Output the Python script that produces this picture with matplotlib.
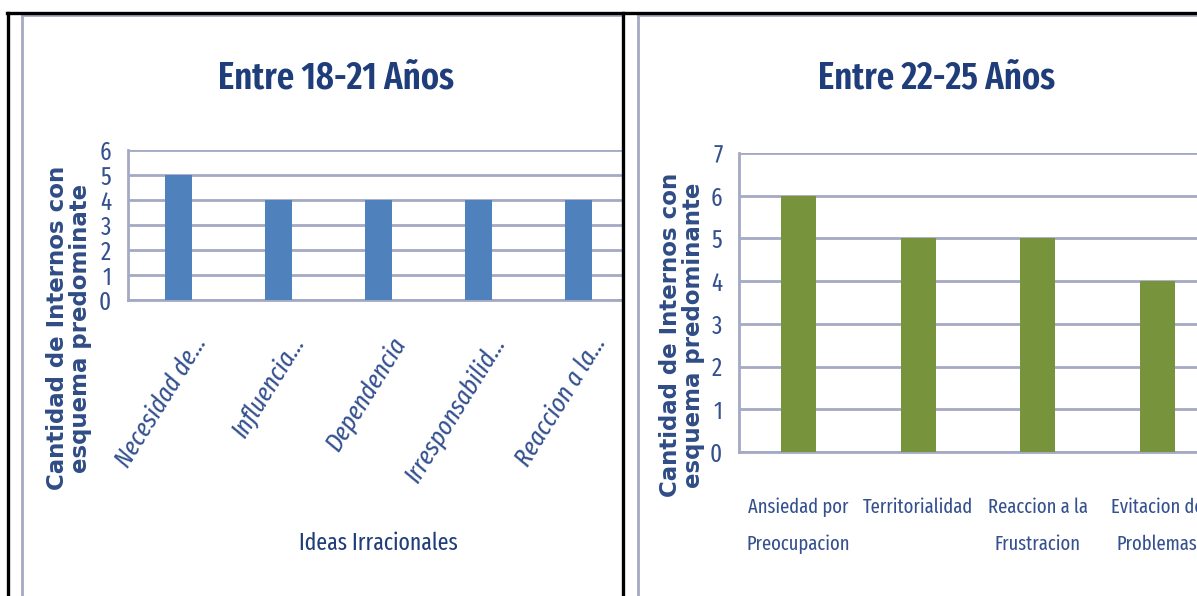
import matplotlib
matplotlib.use("Agg")
import matplotlib.pyplot as plt
import matplotlib.transforms as mtransforms
from matplotlib.lines import Line2D

# data
ideas_18_21 = ["Necesidad de...", "Influencia...", "Dependencia", "Irresponsabilid...", "Reaccion a la..."]
counts_18_21 = [5, 4, 4, 4, 4]

ideas_22_25 = ["Ansiedad por\nPreocupacion", "Territorialidad", "Reaccion a la\nFrustracion", "Evitacion de\nProblemas"]
counts_22_25 = [6, 5, 5, 4]

W, H = 1197, 596
NARROW = ["Fira Sans Extra Condensed", "Carlito", "DejaVu Sans"]
TITLE_C = "#1F3D7A"
TEXT_C = "#34508F"
GRID_C = "#A4A9C4"
BLUE = "#4F81BD"
GREEN = "#77933C"

fig = plt.figure(figsize=(W / 100, H / 100), dpi=100)


def box(x0, y0, x1, y1):
    # pixel box (top-left origin) -> figure fractions
    return [x0 / W, 1 - y1 / H, (x1 - x0) / W, (y1 - y0) / H]


def fx(x):
    return x / W


def fy(y):
    return 1 - y / H


def style_axes(ax, ymax):
    ax.set_ylim(0, ymax)
    ax.set_yticks(range(ymax + 1))
    ax.grid(axis="y", color=GRID_C, lw=2)
    ax.set_axisbelow(True)
    for s in ["top", "right"]:
        ax.spines[s].set_visible(False)
    for s in ["left", "bottom"]:
        ax.spines[s].set_color(GRID_C)
        ax.spines[s].set_linewidth(2)
    ax.tick_params(axis="both", length=0)
    for lab in ax.get_yticklabels():
        lab.set_family(NARROW)
        lab.set_fontweight("normal")
        lab.set_fontsize(18)
        lab.set_color(TEXT_C)


# ---- left chart: 18-21 ----
ax1 = fig.add_axes(box(128, 150, 622, 300))
ax1.bar(range(len(counts_18_21)), counts_18_21, width=0.27, color=BLUE, zorder=3)
ax1.set_xlim(-0.5, -0.5 + 494 / 100)
ax1.set_xticks([])
style_axes(ax1, 6)
ax1.tick_params(axis="y", pad=12)

off = mtransforms.ScaledTranslation(12 / 100, -32 / 100, fig.dpi_scale_trans)
trans = mtransforms.blended_transform_factory(ax1.transData, ax1.transAxes) + off
for i, name in enumerate(ideas_18_21):
    ax1.text(i, 0, name, transform=trans, rotation=58, rotation_mode="anchor",
             ha="right", va="top", fontsize=19, style="italic", fontweight="normal",
             family=NARROW, color=TEXT_C, clip_on=False)

fig.text(fx(336), fy(78), "Entre 18-21 Años", ha="center", va="center",
         fontsize=27, fontweight="semibold", family=NARROW, color=TITLE_C)
fig.text(fx(378), fy(543), "Ideas Irracionales", ha="center", va="center",
         fontsize=17, family=NARROW, color=TITLE_C)
fig.text(fx(69), fy(328), "Cantidad de Internos con\nesquema predominate", rotation=90,
         ha="center", va="center", fontsize=16.5, fontweight="bold", linespacing=0.95,
         family="DejaVu Sans", color="#2F4C85")

# ---- right chart: 22-25 ----
step = 119.5
ax2 = fig.add_axes(box(739, 153, 739 + 5 * step, 452))
ax2.bar(range(len(counts_22_25)), counts_22_25, width=0.29, color=GREEN, zorder=3)
ax2.set_xlim(-0.5, 4.5)
ax2.set_xticks(range(len(ideas_22_25)))
ax2.set_xticklabels(ideas_22_25, family=NARROW, fontsize=14.5, fontweight="normal",
                    color=TEXT_C, linespacing=2.1)
style_axes(ax2, 7)
ax2.tick_params(axis="y", pad=12)
ax2.tick_params(axis="x", pad=33)

fig.text(fx(937), fy(78), "Entre 22-25 Años", ha="center", va="center",
         fontsize=27, fontweight="semibold", family=NARROW, color=TITLE_C)
fig.text(fx(682), fy(335), "Cantidad de Internos con\nesquema predominante", rotation=90,
         ha="center", va="center", fontsize=16.5, fontweight="bold", linespacing=0.95,
         family="DejaVu Sans", color="#2F4C85")

# chart frames (grey) and the black table borders
for xs, ys in [([fx(22), fx(22)], [fy(15), 0]), ([fx(22), fx(622)], [fy(15), fy(15)]),
               ([fx(638), fx(638)], [fy(15), 0]), ([fx(638), 1], [fy(15), fy(15)])]:
    fig.add_artist(Line2D(xs, ys, color=GRID_C, lw=2))
for xs, ys in [([fx(7), 1], [fy(13), fy(13)]), ([fx(8), fx(8)], [fy(13), 0]),
               ([fx(623), fx(623)], [fy(13), 0])]:
    fig.add_artist(Line2D(xs, ys, color="black", lw=2.4))

fig.savefig("out.png", dpi=100, facecolor="white")
